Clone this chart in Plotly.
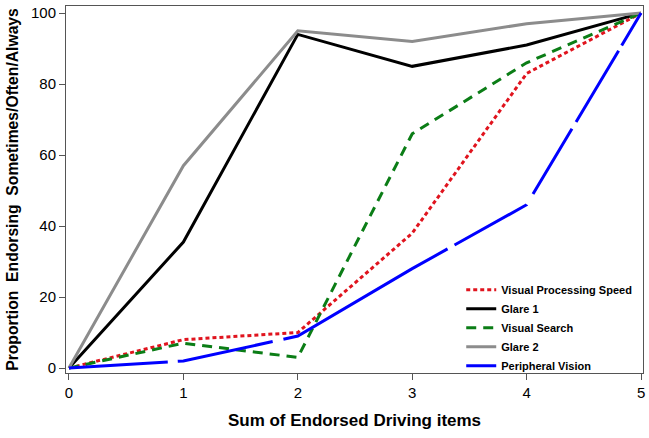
import plotly.graph_objects as go

x_vals = [0, 1, 2, 3, 4, 5]
visual_processing_speed = [0, 8, 10, 38, 83, 100]
glare_1 = [0, 35.5, 94, 85, 91, 100]
visual_search = [0, 7, 3, 66, 86, 100]
glare_2 = [0, 57, 95, 92, 97, 100]
peripheral_vision = [0, 2, 9, 28, 46, 100]

series = [
    ("Visual Processing Speed", visual_processing_speed, "#e0141e", "4px,3px"),
    ("Glare 1", glare_1, "#000000", "solid"),
    ("Visual Search", visual_search, "#0b7d16", "10px,7px"),
    ("Glare 2", glare_2, "#8c8c8c", "solid"),
    ("Peripheral Vision", peripheral_vision, "#0000ff",
     "99px,10px,97px,11px,188px,8px,83px,12px,76px,8px,83px,6px,300px"),
]

fig = go.Figure()
for name, vals, color, dash in series:
    fig.add_trace(go.Scatter(x=x_vals, y=vals, mode="lines", name=name,
                             line=dict(color=color, width=3, dash=dash)))

fig.update_layout(
    width=649, height=438,
    margin=dict(l=66, r=6, t=6, b=65, autoexpand=False),
    plot_bgcolor="white", paper_bgcolor="white",
    font=dict(family="Liberation Sans, Arial, sans-serif", color="black"),
    showlegend=True,
    legend=dict(x=0.99, y=-0.02, xanchor="right", yanchor="bottom",
                font=dict(size=11, family="Liberation Sans, Arial, sans-serif", weight="bold"),
                bgcolor="rgba(0,0,0,0)", tracegroupgap=0, itemwidth=30),
)
fig.update_xaxes(range=[-0.026, 5.017], tickvals=x_vals, ticks="outside", ticklen=6,
                 tickcolor="#555", tickfont=dict(size=15), showgrid=False, zeroline=False,
                 showline=True, linecolor="#555", mirror=True, linewidth=1, automargin=False,
                 title=dict(text="<b>Sum of Endorsed Driving items</b>", font=dict(size=17), standoff=14))
fig.update_yaxes(range=[-1.4, 102], tickvals=[0, 20, 40, 60, 80, 100], ticks="outside", ticklen=6,
                 tickcolor="#555", tickfont=dict(size=15), showgrid=False, zeroline=False,
                 showline=True, linecolor="#555", mirror=True, linewidth=1, automargin=False,
                 title=dict(text="<b>Proportion  Endorsing  Sometimes/Often/Always</b>", font=dict(size=15.7), standoff=8))

fig.write_html("out.html", config={"displayModeBar": False},
               post_script="document.body.style.margin='0';document.body.style.overflow='hidden';")
